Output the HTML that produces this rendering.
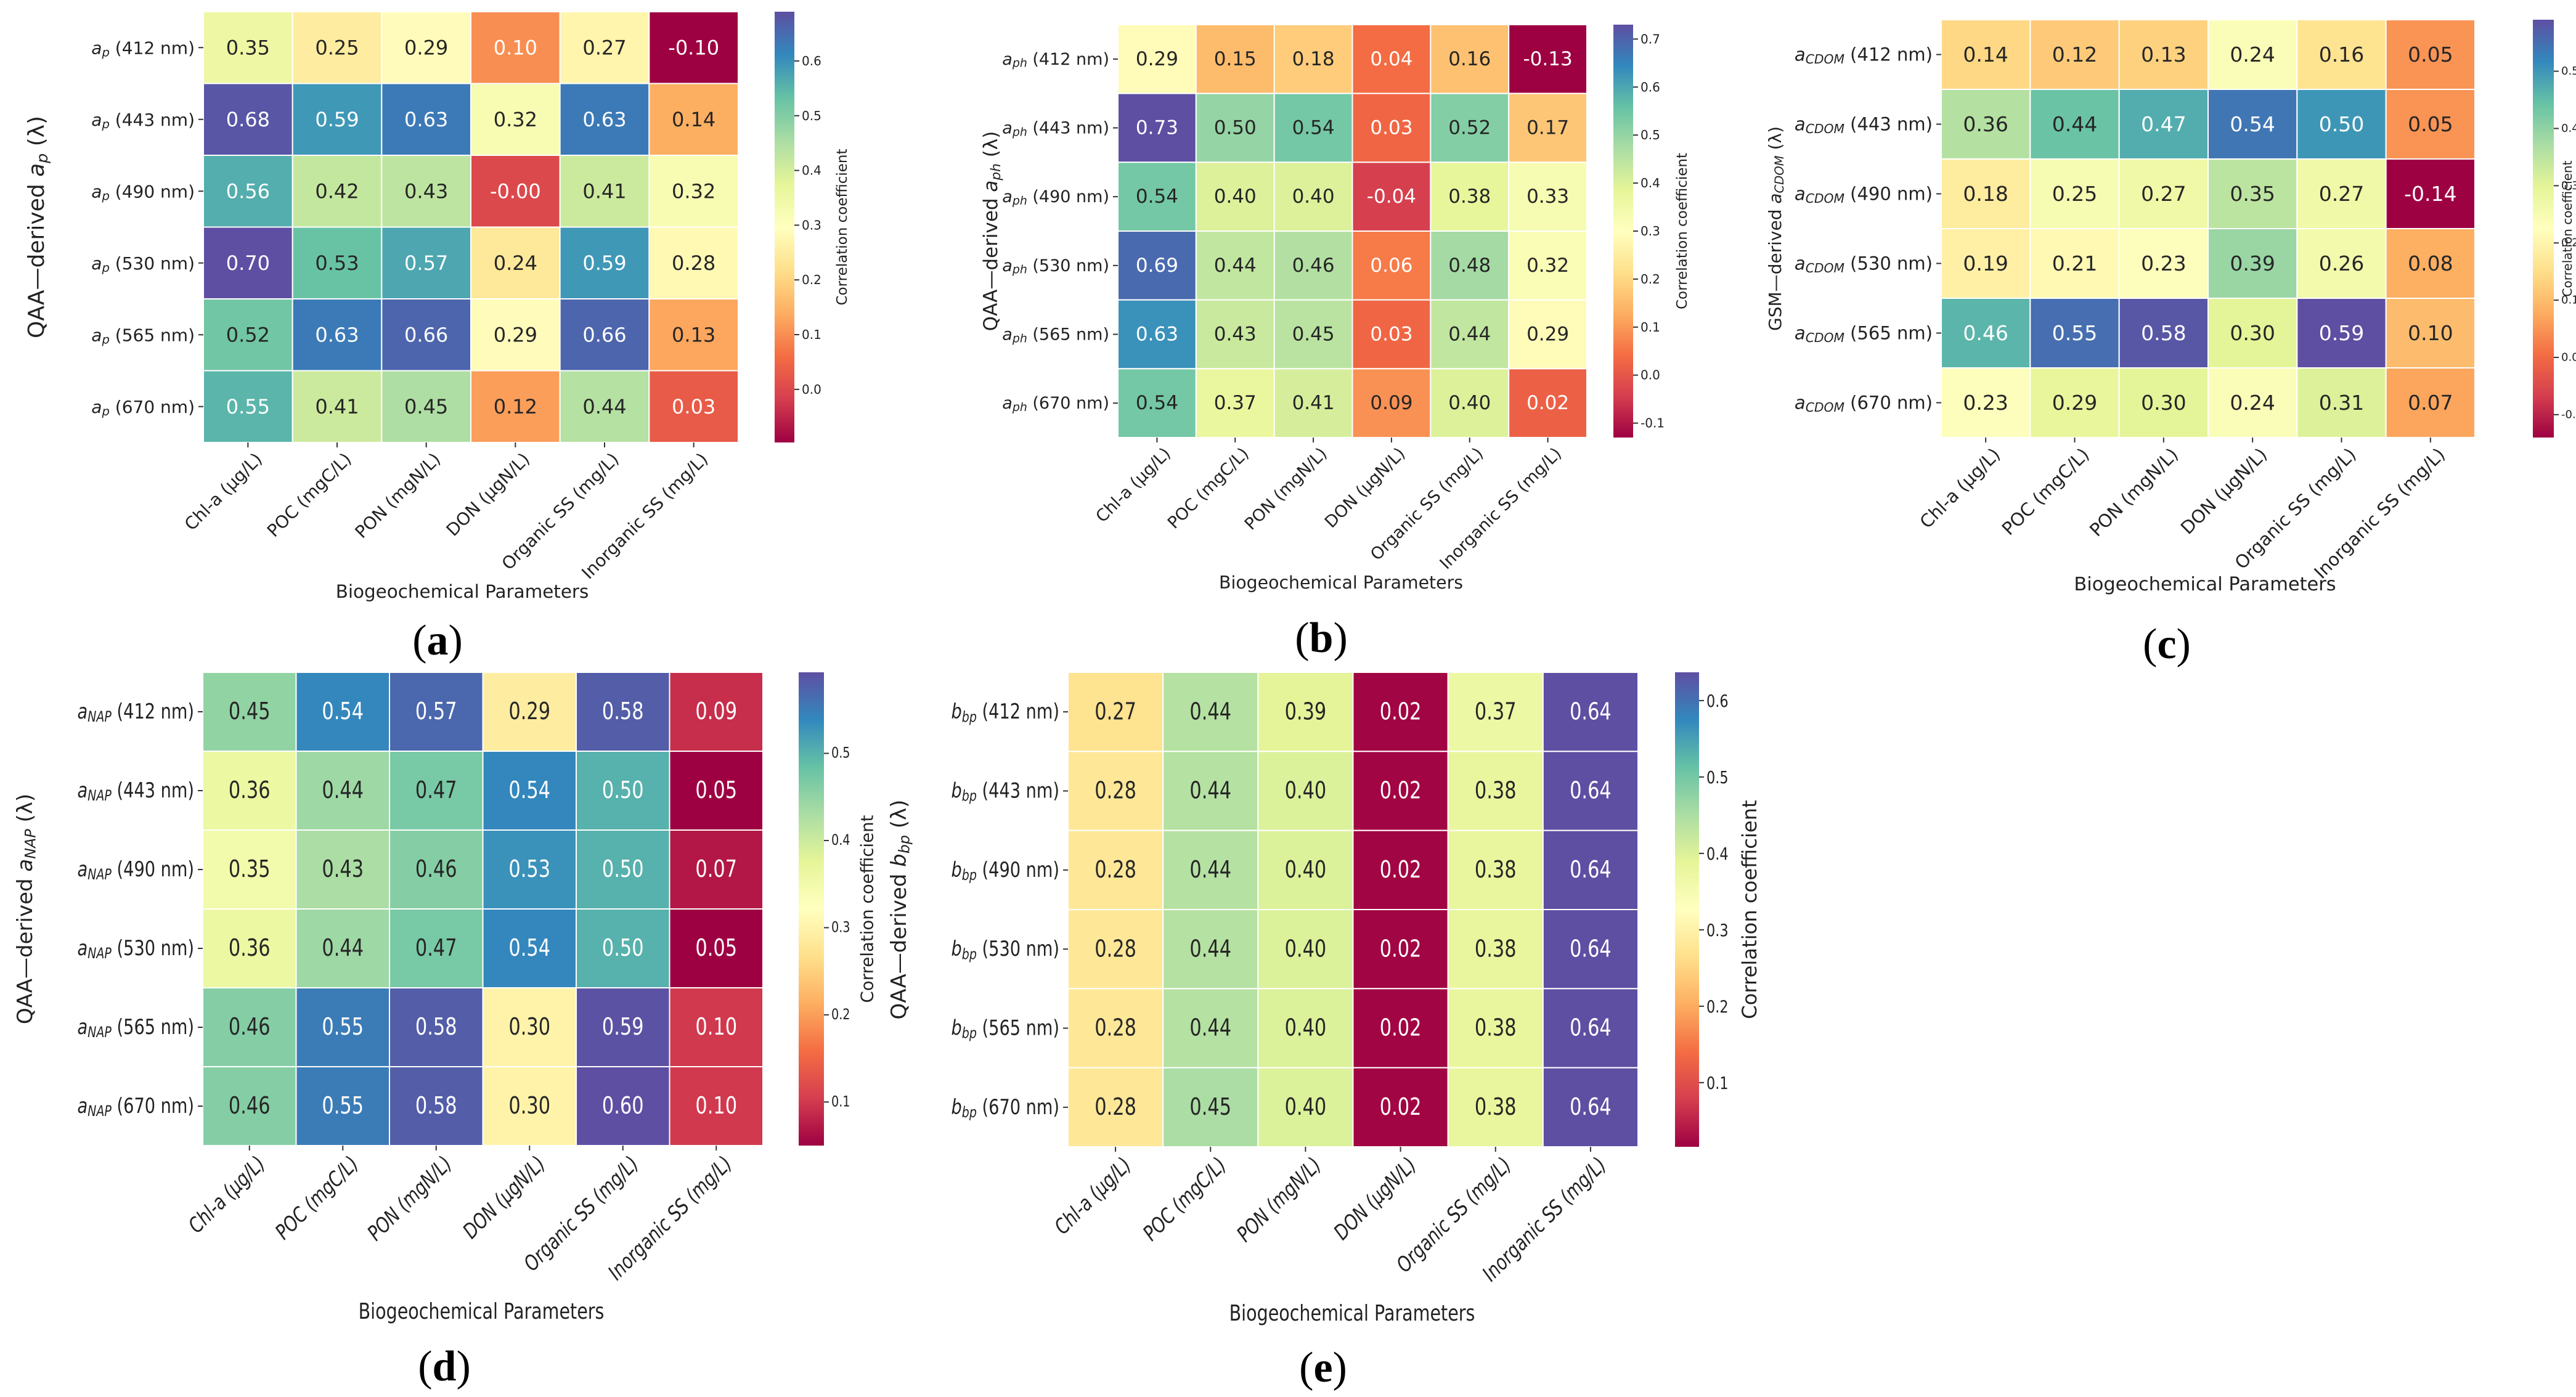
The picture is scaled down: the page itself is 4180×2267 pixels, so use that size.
<!DOCTYPE html>
<html><head><meta charset="utf-8"><style>
html,body{margin:0;padding:0;background:#fff;}
svg{display:block;}
text{font-family:"DejaVu Sans","Liberation Sans",sans-serif;}
</style></head><body>
<svg id="fig" xmlns="http://www.w3.org/2000/svg" width="4180" height="2267" viewBox="0 0 4180 2267">
<defs id="defs"></defs>
</svg>
<script>
const categories = ["Chl-a (\u00b5g/L)","POC (mgC/L)","PON (mgN/L)","DON (\u00b5gN/L)","Organic SS (mg/L)","Inorganic SS (mg/L)"];
const wavelengths = ["412","443","490","530","565","670"];
const valuesA = [[0.35,0.25,0.29,0.10,0.27,-0.10],[0.68,0.59,0.63,0.32,0.63,0.14],[0.56,0.42,0.43,-0.00,0.41,0.32],[0.70,0.53,0.57,0.24,0.59,0.28],[0.52,0.63,0.66,0.29,0.66,0.13],[0.55,0.41,0.45,0.12,0.44,0.03]];
const valuesB = [[0.29,0.15,0.18,0.04,0.16,-0.13],[0.73,0.50,0.54,0.03,0.52,0.17],[0.54,0.40,0.40,-0.04,0.38,0.33],[0.69,0.44,0.46,0.06,0.48,0.32],[0.63,0.43,0.45,0.03,0.44,0.29],[0.54,0.37,0.41,0.09,0.40,0.02]];
const valuesC = [[0.14,0.12,0.13,0.24,0.16,0.05],[0.36,0.44,0.47,0.54,0.50,0.05],[0.18,0.25,0.27,0.35,0.27,-0.14],[0.19,0.21,0.23,0.39,0.26,0.08],[0.46,0.55,0.58,0.30,0.59,0.10],[0.23,0.29,0.30,0.24,0.31,0.07]];
const valuesD = [[0.45,0.54,0.57,0.29,0.58,0.09],[0.36,0.44,0.47,0.54,0.50,0.05],[0.35,0.43,0.46,0.53,0.50,0.07],[0.36,0.44,0.47,0.54,0.50,0.05],[0.46,0.55,0.58,0.30,0.59,0.10],[0.46,0.55,0.58,0.30,0.60,0.10]];
const valuesE = [[0.27,0.44,0.39,0.02,0.37,0.64],[0.28,0.44,0.40,0.02,0.38,0.64],[0.28,0.44,0.40,0.02,0.38,0.64],[0.28,0.44,0.40,0.02,0.38,0.64],[0.28,0.44,0.40,0.02,0.38,0.64],[0.28,0.45,0.40,0.02,0.38,0.64]];
const ticksA = [0.0,0.1,0.2,0.3,0.4,0.5,0.6];
const ticksB = [-0.1,0.0,0.1,0.2,0.3,0.4,0.5,0.6,0.7];
const ticksC = [-0.1,0.0,0.1,0.2,0.3,0.4,0.5];
const ticksD = [0.1,0.2,0.3,0.4,0.5];
const ticksE = [0.1,0.2,0.3,0.4,0.5,0.6];

const SP = ["#9e0142","#d53e4f","#f46d43","#fdae61","#fee08b","#ffffbf","#e6f598","#abdda4","#66c2a5","#3288bd","#5e4fa2"];
function hex(h){return [parseInt(h.substr(1,2),16),parseInt(h.substr(3,2),16),parseInt(h.substr(5,2),16)];}
function spectral(t){t=Math.max(0,Math.min(1,t));const p=t*10,i=Math.min(9,Math.floor(p)),f=p-i;const a=hex(SP[i]),b=hex(SP[i+1]);return a.map((v,k)=>Math.round(v+(b[k]-v)*f));}
function rgb(c){return "rgb("+c.join(",")+")";}
function lum(c){const l=c.map(v=>{v/=255;return v<=0.03928?v/12.92:Math.pow((v+0.055)/1.055,2.4);});return 0.2126*l[0]+0.7152*l[1]+0.0722*l[2];}
function fmt(v){let s=v.toFixed(2);if((v<0||Object.is(v,-0))&&s[0]!=="-")s="-"+s;return s;}
const NS="http://www.w3.org/2000/svg";
const svg=document.getElementById("fig");
const defs=document.getElementById("defs");
function el(tag,attrs,parent){const e=document.createElementNS(NS,tag);for(const k in attrs)e.setAttribute(k,attrs[k]);(parent||svg).appendChild(e);return e;}

function drawPanel(P){
  const g=el("g",{});
  
  
  const nR=P.values.length,nC=categories.length;
  const cw=(P.x1-P.x0)/nC,ch=(P.y1-P.y0)/nR;
  const xs=c=>P.x0+c*cw, ys=r=>P.y0+r*ch;
  const norm=v=>(v-P.vmin)/(P.vmax-P.vmin);
  const sx=P.sx||1;
  for(let r=0;r<nR;r++)for(let c=0;c<nC;c++){
    const v=P.values[r][c],col=spectral(norm(v));
    const rc=el("rect",{x:xs(c),y:ys(r),width:cw,height:ch,fill:rgb(col),stroke:"#ffffff","stroke-width":2},g);
    
    
    const t=el("text",{x:0,y:0,"font-size":P.vfs,"text-anchor":"middle","dominant-baseline":"central",fill:lum(col)<0.408?"#ffffff":"#262626",transform:`translate(${xs(c)+cw/2},${ys(r)+ch/2}) scale(${sx},1)`},g);
    t.textContent=fmt(v);
    
    
  }
  for(let r=0;r<nR;r++){
    const yc=ys(r)+ch/2;
    el("line",{x1:P.x0-8,x2:P.x0,y1:yc,y2:yc,stroke:"#333","stroke-width":2},g);
    const t=el("text",{x:0,y:0,"font-size":P.tfs,"text-anchor":"end","dominant-baseline":"central",fill:"#222",transform:`translate(${P.x0-14},${yc}) scale(${sx},1)`},g);
    
    
    const a=el("tspan",{"font-style":"italic"},t);a.textContent=P.sym;
    const s=el("tspan",{"font-style":"italic","font-size":P.tfs*0.7,dy:P.tfs*0.25},t);s.textContent=P.sub;
    const rest=el("tspan",{dy:-P.tfs*0.25},t);rest.textContent=" ("+wavelengths[r]+" nm)";
  }
  for(let c=0;c<nC;c++){
    const xc=xs(c)+cw/2;
    el("line",{x1:xc,x2:xc,y1:P.y1,y2:P.y1+8,stroke:"#333","stroke-width":2},g);
    const t=el("text",{x:0,y:0,"font-size":P.tfs,"text-anchor":"end","dominant-baseline":"hanging",fill:"#222",transform:`translate(${xc+10},${P.y1+14}) rotate(-45) scale(${sx},1)`,"font-style":P.xital?"italic":"normal"},g);
    t.textContent=categories[c];
    
    
  }
  const xt=el("text",{x:0,y:0,"font-size":P.tfs*1.05,"text-anchor":"middle",fill:"#222",transform:`translate(${P.xlx},${P.xly}) scale(${sx},1)`},g);
  xt.textContent="Biogeochemical Parameters";
  
  
  const yt=el("text",{x:0,y:0,"font-size":P.yfs,"text-anchor":"middle","dominant-baseline":"central",fill:"#222",transform:`translate(${P.ytx},${(P.y0+P.y1)/2}) rotate(-90)`},g);
  
  
  const y1=el("tspan",{},yt);y1.textContent=P.pre+"\u2014derived ";
  const y2=el("tspan",{"font-style":"italic"},yt);y2.textContent=P.sym;
  const y3=el("tspan",{"font-style":"italic","font-size":P.yfs*0.7,dy:P.yfs*0.25},yt);y3.textContent=P.sub;
  const y4=el("tspan",{dy:-P.yfs*0.25},yt);y4.textContent=" (\u03bb)";
  const gid="grad"+P.id;
  const lg=el("linearGradient",{id:gid,x1:0,y1:1,x2:0,y2:0},defs);
  for(let i=0;i<=10;i++)el("stop",{offset:i/10,"stop-color":SP[i]},lg);
  const cb=el("rect",{x:P.cbx,y:P.y0,width:P.cbw,height:P.y1-P.y0,fill:`url(#${gid})`},g);
  
  
  const cy=v=>P.y1-(v-P.vmin)/(P.vmax-P.vmin)*(P.y1-P.y0);
  P.ticks.forEach(v=>{
    const y=cy(v);
    el("line",{x1:P.cbx+P.cbw,x2:P.cbx+P.cbw+8,y1:y,y2:y,stroke:"#333","stroke-width":2},g);
    const t=el("text",{x:0,y:0,"font-size":P.cfs,"dominant-baseline":"central",fill:"#222",transform:`translate(${P.cbx+P.cbw+12},${y}) scale(${sx},1)`},g);
    t.textContent=v.toFixed(1);
    
    
  });
  const cl=el("text",{x:0,y:0,"font-size":P.clfs||P.cfs*1.15,"text-anchor":"middle","dominant-baseline":"central",fill:"#222",transform:`translate(${P.clx},${(P.y0+P.y1)/2}) rotate(-90)`},g);
  cl.textContent="Correlation coefficient";
  
  
  const lt=el("text",{x:P.lx,y:P.ly,"font-size":70,"text-anchor":"middle",style:"font-family:'Liberation Serif',serif",fill:"#000"},g);
  
  
  const b1=el("tspan",{},lt);b1.textContent="(";
  const b2=el("tspan",{"font-weight":"bold"},lt);b2.textContent=P.id;
  const b3=el("tspan",{},lt);b3.textContent=")";
}

drawPanel({id:"a",values:valuesA,vmin:-0.097,vmax:0.69,ticks:ticksA,x0:330,x1:1198,y0:19,y1:718,cbx:1257,cbw:32,sym:"a",sub:"p",pre:"QAA",tfs:28,vfs:32,yfs:36,cfs:20,ytx:59,clx:1367,xlx:750,xly:970,lx:710,ly:1062});
drawPanel({id:"b",values:valuesB,vmin:-0.13,vmax:0.73,ticks:ticksB,x0:1814,x1:2575,y0:40,y1:710,cbx:2618,cbw:32,sym:"a",sub:"ph",pre:"QAA",tfs:27,vfs:31,yfs:31,cfs:20,ytx:1608,clx:2730,xlx:2176,xly:955,lx:2144,ly:1058});
drawPanel({id:"c",values:valuesC,vmin:-0.14,vmax:0.59,ticks:ticksC,x0:3150,x1:4016,y0:32,y1:710,cbx:4110,cbw:34,sym:"a",sub:"CDOM",pre:"GSM",tfs:29,vfs:33,yfs:28,cfs:18,clfs:20,ytx:2880,clx:4166,xlx:3578,xly:958,lx:3516,ly:1068});
drawPanel({id:"d",values:valuesD,vmin:0.05,vmax:0.593,ticks:ticksD,x0:329,x1:1238,y0:1091,y1:1859,cbx:1296,cbw:41,sym:"a",sub:"NAP",pre:"QAA",tfs:34,vfs:38,yfs:34,cfs:24,sx:0.8,xital:true,ytx:41,clx:1407,xlx:781,xly:2140,lx:721,ly:2240});
drawPanel({id:"e",values:valuesE,vmin:0.016,vmax:0.637,ticks:ticksE,x0:1733,x1:2658,y0:1091,y1:1861,cbx:2718,cbw:39,sym:"b",sub:"bp",pre:"QAA",tfs:34,vfs:38,yfs:34,cfs:28,sx:0.8,xital:true,ytx:1459,clx:2839,xlx:2194,xly:2143,lx:2147,ly:2242});
</script>
</body></html>
